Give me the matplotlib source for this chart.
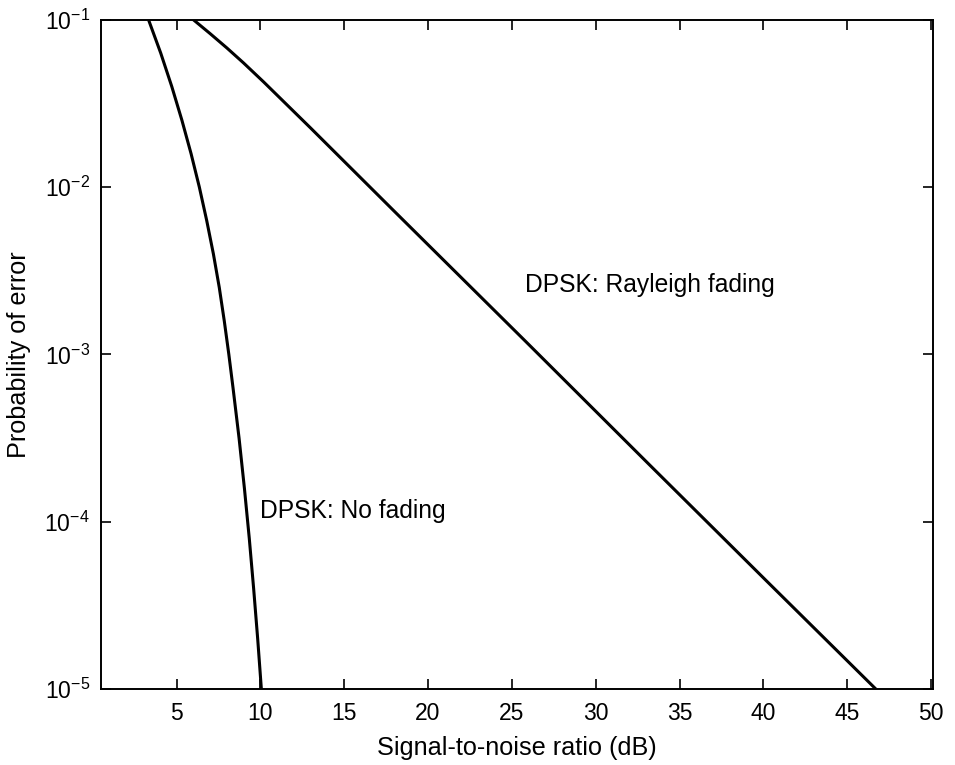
import matplotlib
matplotlib.use("Agg")
import matplotlib.pyplot as plt
from matplotlib.ticker import NullLocator, FixedLocator

plt.rcParams['font.family'] = ['Liberation Sans', 'DejaVu Sans']

# DPSK, no fading
nofade_snr = [3.33, 4.06, 4.72, 5.32, 5.87, 6.36, 6.80, 7.20, 7.55, 7.85, 8.12, 8.37,
              8.73, 9.05, 9.34, 9.60, 9.84, 10.06]
nofade_pe = [1e-1, 6.31e-2, 3.98e-2, 2.51e-2, 1.58e-2, 1.0e-2, 6.31e-3, 3.98e-3, 2.51e-3,
             1.58e-3, 1.0e-3, 6.31e-4, 3.16e-4, 1.58e-4, 7.94e-5, 3.98e-5, 2.0e-5, 1e-5]

# DPSK, Rayleigh fading
rayleigh_snr = [6.0, 7.0, 8.0, 9.0, 10.2, 13.0, 18.0, 25.8, 33.1, 40.1, 46.7]
rayleigh_pe = [1e-1, 8.26e-2, 6.78e-2, 5.51e-2, 4.24e-2, 2.25e-2, 7.14e-3, 1.20e-3,
               2.24e-4, 4.51e-5, 1e-5]

x_ticks = [5, 10, 15, 20, 25, 30, 35, 40, 45, 50]
y_ticks = [1e-5, 1e-4, 1e-3, 1e-2, 1e-1]

fig = plt.figure(figsize=(9.55, 7.65), dpi=100)
ax = fig.add_axes([0.1058, 0.0993, 0.871, 0.875])

ax.plot(nofade_snr, nofade_pe, color='black', lw=2.2)
ax.plot(rayleigh_snr, rayleigh_pe, color='black', lw=2.2)

ax.set_yscale('log')
ax.set_xlim(0.5, 50.1)
ax.set_ylim(1e-5, 1e-1)
ax.xaxis.set_major_locator(FixedLocator(x_ticks))
ax.yaxis.set_major_locator(FixedLocator(y_ticks))
ax.yaxis.set_minor_locator(NullLocator())
ax.xaxis.set_minor_locator(NullLocator())

ax.tick_params(axis='both', which='major', direction='in', length=7, width=1.2,
               top=True, right=True, labelsize=16.5, colors='black')
ax.tick_params(axis='x', pad=9)
ax.tick_params(axis='y', pad=8)

for s in ax.spines.values():
    s.set_linewidth(1.4)
    s.set_color('black')

ax.set_xlabel('Signal-to-noise ratio (dB)', fontsize=18.2, labelpad=8)
ax.set_ylabel('Probability of error', fontsize=18.2, labelpad=10)

ax.text(10.0, 1.05e-4, 'DPSK: No fading', fontsize=17.7, ha='left', va='baseline')
ax.text(25.8, 2.6e-3, 'DPSK: Rayleigh fading', fontsize=17.7, ha='left', va='center')

fig.savefig('out.png', dpi=100)
